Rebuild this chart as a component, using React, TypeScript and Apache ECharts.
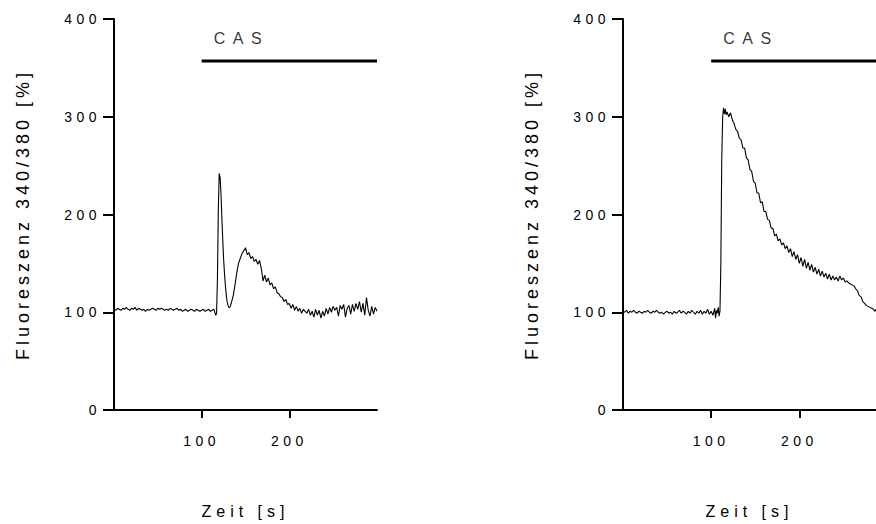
import React, { useEffect, useRef } from "react";
import * as echarts from "echarts";

// Calcium traces (Fura-2 ratio 340/380, % of baseline) – time in s
const cellA: [number, number][] = [
  [0, 103], [2, 102], [4, 104], [6, 103], [8, 102], [10, 104], [12, 103], [14, 105], [16, 103], [18, 102],
  [20, 104], [22, 103], [24, 105], [26, 102], [28, 104], [30, 103], [32, 102], [34, 103], [36, 101], [38, 103],
  [40, 102], [42, 103], [44, 104], [46, 103], [48, 102], [50, 104], [52, 103], [54, 104], [56, 103], [58, 102],
  [60, 103], [62, 102], [64, 104], [66, 103], [68, 102], [70, 103], [72, 104], [74, 102], [76, 103], [78, 101],
  [80, 102], [82, 103], [84, 101], [86, 102], [88, 103], [90, 102], [92, 101], [94, 103], [96, 102], [98, 101],
  [100, 102], [102, 103], [104, 101], [106, 102], [108, 103], [110, 101], [112, 102], [114, 103],
  [116, 97], [117, 99], [118, 135], [119, 205], [120, 242], [121, 238], [122, 222], [123, 198], [124, 175],
  [125, 155], [126, 140], [127, 128], [128, 118], [129, 111], [130, 107], [131, 105], [132, 105], [133, 107],
  [134, 110], [136, 117], [138, 128], [140, 140], [142, 150], [144, 155], [146, 160], [148, 163], [150, 166],
  [152, 159], [154, 161], [156, 155], [158, 157], [160, 152], [162, 154], [164, 149], [166, 153], [168, 145],
  [170, 132], [172, 138], [174, 131], [176, 135], [178, 128], [180, 130], [182, 124], [184, 126], [186, 120],
  [188, 119], [190, 116], [192, 115], [194, 111], [196, 113], [198, 108], [200, 109], [202, 104], [204, 108],
  [206, 102], [208, 106], [210, 101], [212, 104], [214, 99], [216, 103], [218, 101], [220, 99], [222, 103],
  [224, 97], [226, 101], [228, 95], [230, 103], [232, 97], [234, 102], [236, 94], [238, 101], [240, 96],
  [242, 104], [244, 98], [246, 105], [248, 100], [250, 106], [252, 102], [254, 105], [256, 96], [258, 107],
  [260, 103], [262, 108], [264, 95], [266, 104], [268, 107], [270, 98], [272, 108], [274, 101], [276, 109],
  [278, 103], [280, 111], [282, 100], [284, 109], [286, 97], [288, 115], [290, 102], [292, 96], [294, 106],
  [296, 98], [298, 105], [300, 101],
];

const cellB: [number, number][] = [
  [0, 101], [2, 100], [4, 102], [6, 99], [8, 101], [10, 100], [12, 102], [14, 100], [16, 99], [18, 101],
  [20, 100], [22, 99], [24, 101], [26, 100], [28, 102], [30, 100], [32, 99], [34, 101], [36, 100], [38, 102],
  [40, 100], [42, 99], [44, 100], [46, 98], [48, 100], [50, 101], [52, 99], [54, 100], [56, 98], [58, 101],
  [60, 99], [62, 100], [64, 102], [66, 99], [68, 101], [70, 100], [72, 98], [74, 101], [76, 99], [78, 102],
  [80, 100], [82, 98], [84, 101], [86, 99], [88, 102], [90, 98], [92, 101], [94, 99], [96, 103], [98, 98],
  [100, 101], [102, 97], [104, 104], [105, 94], [106, 102], [107, 99], [108, 105], [109, 96], [110, 101],
  [111, 150], [112, 255], [113, 298], [114, 309], [115, 303], [116, 308], [117, 302], [118, 305], [120, 300],
  [122, 304], [124, 297], [126, 293], [128, 287], [130, 285], [132, 278], [134, 276], [136, 268], [138, 268],
  [140, 258], [142, 256], [144, 246], [146, 244], [148, 234], [150, 232], [152, 222], [154, 222], [156, 212],
  [158, 213], [160, 203], [162, 203], [164, 195], [166, 194], [168, 186], [170, 186], [172, 178], [174, 180],
  [176, 173], [178, 175], [180, 169], [182, 171], [184, 165], [186, 168], [188, 161], [190, 165], [192, 157],
  [194, 162], [196, 154], [198, 159], [200, 150], [202, 156], [204, 147], [206, 154], [208, 145], [210, 151],
  [212, 143], [214, 149], [216, 141], [218, 146], [220, 139], [222, 144], [224, 137], [226, 142], [228, 136],
  [230, 140], [232, 134], [234, 139], [236, 133], [238, 137], [240, 133], [242, 136], [244, 132], [246, 137],
  [248, 133], [250, 135], [252, 131], [254, 132], [256, 130], [258, 129], [260, 128], [262, 127], [264, 124],
  [266, 122], [268, 117], [270, 116], [272, 111], [274, 109], [276, 107], [278, 106], [280, 105], [282, 104],
  [284, 103], [286, 101], [287, 103],
];

// Application bar: CAS present from 100 s onward
const casStart = 100;
const casLevel = 357;
const casEndA = 300;
const casEndB = 287;

const xMaxA = 300;
const xMaxB = 287;
const yTicks = [0, 100, 200, 300, 400];
const xTicks = [100, 200];

const xName = "Zeit [s]";
const yName = "Fluoreszenz 340/380 [%]";
const casLabel = "CAS";

const FONT = "'Liberation Sans', Arial, Helvetica, sans-serif";
const INK = "#000";

function xAxis(gridIndex: number, max: number) {
  return {
    type: "value",
    gridIndex,
    min: 0,
    max,
    name: xName,
    nameLocation: "middle",
    nameGap: 93,
    nameTextStyle: { color: INK, fontFamily: FONT, fontSize: 16, verticalAlign: "top" },
    axisLine: { show: true, onZero: false, lineStyle: { color: INK, width: 2 } },
    axisTick: { show: true, length: 8, customValues: xTicks, lineStyle: { color: INK, width: 2 } },
    axisLabel: { show: true, margin: 24, customValues: xTicks, color: INK, fontFamily: FONT, fontSize: 14 },
    splitLine: { show: false },
  };
}

function yAxis(gridIndex: number) {
  return {
    type: "value",
    gridIndex,
    min: yTicks[0],
    max: yTicks[yTicks.length - 1],
    interval: 100,
    name: yName,
    nameLocation: "middle",
    nameGap: 82,
    nameTextStyle: { color: INK, fontFamily: FONT, fontSize: 18 },
    axisLine: { show: true, lineStyle: { color: INK, width: 2 } },
    axisTick: { show: true, length: 11, lineStyle: { color: INK, width: 2 } },
    axisLabel: { show: true, margin: 13, color: INK, fontFamily: FONT, fontSize: 14 },
    splitLine: { show: false },
  };
}

function trace(idx: number, data: [number, number][]) {
  return {
    type: "line",
    xAxisIndex: idx,
    yAxisIndex: idx,
    data,
    showSymbol: false,
    symbol: "none",
    lineStyle: { color: INK, width: 1.1 },
    silent: true,
    z: 3,
  };
}

function casBar(idx: number, end: number) {
  return {
    type: "line",
    xAxisIndex: idx,
    yAxisIndex: idx,
    data: [[casStart, casLevel], [end, casLevel]],
    showSymbol: false,
    symbol: "none",
    lineStyle: { color: INK, width: 3 },
    silent: true,
    z: 2,
  };
}

function casText(idx: number) {
  return {
    type: "scatter",
    xAxisIndex: idx,
    yAxisIndex: idx,
    data: [[casStart, casLevel]],
    symbolSize: 0,
    silent: true,
    label: {
      show: true,
      formatter: casLabel,
      position: [12, -31],
      align: "left",
      verticalAlign: "top",
      color: INK,
      fontFamily: FONT,
      fontSize: 16,
    },
  };
}

// Wide tracking of the axis and annotation texts
function trackingFor(text: string): number {
  if (/^\d+$/.test(text)) return 4.5;
  if (text === casLabel) return 7.5;
  if (text === yName) return 4;
  if (text === xName) return 5;
  return 0;
}

function applyTracking(root: HTMLElement) {
  root.querySelectorAll("text").forEach((el) => {
    const s = trackingFor((el.textContent || "").trim());
    if (s) el.setAttribute("letter-spacing", `${s}px`);
  });
}

export default function App() {
  const ref = useRef<HTMLDivElement>(null);

  useEffect(() => {
    if (!ref.current) return;
    const el = ref.current;
    const chart = echarts.init(el, undefined, { renderer: "svg" });
    chart.on("finished", () => applyTracking(el));
    chart.setOption({
      animation: false,
      backgroundColor: "#fff",
      grid: [
        { left: 114, top: 19, width: 263, height: 393 },
        { left: 623, top: 19, width: 253, height: 393 },
      ],
      xAxis: [xAxis(0, xMaxA), xAxis(1, xMaxB)],
      yAxis: [yAxis(0), yAxis(1)],
      series: [
        trace(0, cellA),
        casBar(0, casEndA),
        casText(0),
        trace(1, cellB),
        casBar(1, casEndB),
        casText(1),
      ],
    });
    applyTracking(el);
    const t = window.setTimeout(() => applyTracking(el), 50);
    return () => {
      window.clearTimeout(t);
      chart.dispose();
    };
  }, []);

  return (
    <div
      ref={ref}
      style={{ position: "absolute", left: 0, top: 0, width: 876, height: 524, background: "#fff" }}
    />
  );
}
